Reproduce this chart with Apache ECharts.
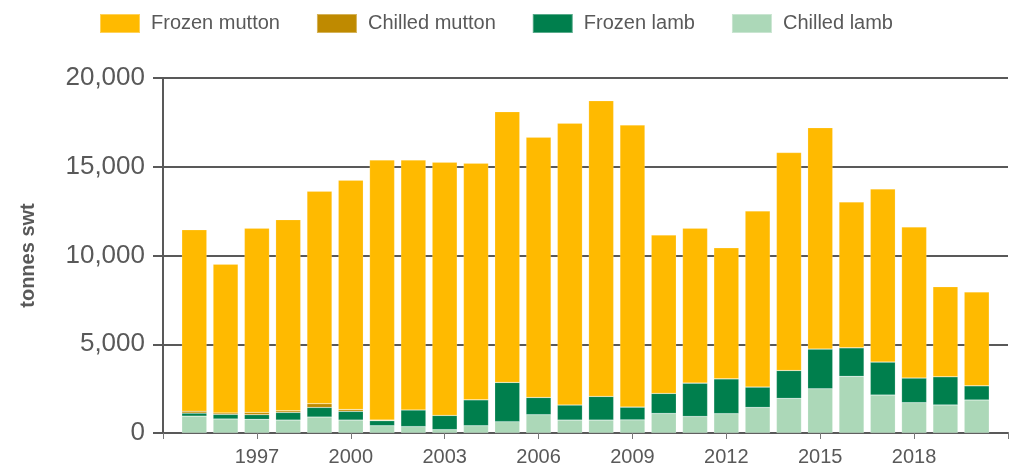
<!DOCTYPE html>
<html>
<head>
<meta charset="utf-8">
<script src="https://cdn.jsdelivr.net/npm/echarts@6/dist/echarts.min.js"></script>
<style>
  html, body { margin: 0; padding: 0; background: #fff; }
  #container { width: 1016px; height: 468px; }
</style>
</head>
<body>
<div id="container"></div>
<script>
const years = ['1995', '1996', '1997', '1998', '1999', '2000', '2001', '2002', '2003', '2004',
  '2005', '2006', '2007', '2008', '2009', '2010', '2011', '2012', '2013', '2014',
  '2015', '2016', '2017', '2018', '2019', '2020'];

// tonnes swt
const frozenMutton = [10220, 8380, 10380, 10770, 11970, 12920, 14650, 14080, 14260, 13330,
  15250, 14660, 15870, 16660, 15890, 8920, 8730, 7380, 9920, 12280,
  12470, 8220, 9750, 8510, 5070, 5290];
const chilledMutton = [110, 80, 130, 90, 210, 100, 40, 0, 0, 0,
  0, 0, 0, 0, 0, 0, 0, 0, 0, 0,
  0, 0, 0, 0, 0, 0];
const frozenLamb = [170, 260, 260, 430, 540, 490, 280, 940, 800, 1460,
  2210, 970, 850, 1330, 720, 1130, 1880, 1960, 1150, 1570,
  2240, 1610, 1860, 1390, 1590, 800];
const chilledLamb = [950, 790, 770, 730, 900, 730, 410, 360, 190, 410,
  640, 1030, 730, 730, 740, 1100, 930, 1090, 1440, 1950,
  2490, 3190, 2140, 1710, 1580, 1860];

const yTicks = [0, 5000, 10000, 15000, 20000];

// the axis runs one year past each end, ticks every third year
const axisYears = [String(+years[0] - 1)].concat(years, [String(+years[years.length - 1] + 1)]);
function pad(arr) {
  return [null].concat(arr, [null]);
}

const chart = echarts.init(document.getElementById('container'));
const grey = '#595959';
const font = 'Liberation Sans, Arial, sans-serif';

function barSeries(name, data, color) {
  return {
    name: name,
    type: 'bar',
    stack: 'total',
    barWidth: 25,
    data: pad(data),
    itemStyle: { color: color, borderColor: 'rgba(255,255,255,0.35)', borderWidth: 0.5 },
  };
}

const option = {
  animation: false,
  textStyle: { fontFamily: font },
  legend: {
    top: 8,
    left: 94,
    icon: 'rect',
    itemWidth: 40,
    itemHeight: 19,
    itemGap: 36,
    textStyle: { fontSize: 20, color: grey, fontFamily: font, padding: [0, 0, 0, 6] },
    data: ['Frozen mutton', 'Chilled mutton', 'Frozen lamb', 'Chilled lamb'],
  },
  grid: {
    left: 163,
    right: 8,
    top: 78,
    bottom: 35,
    containLabel: false,
  },
  xAxis: {
    type: 'category',
    data: axisYears,
    boundaryGap: false,
    axisLine: { lineStyle: { color: grey, width: 2 } },
    axisTick: { interval: 2, length: 6, lineStyle: { color: '#777', width: 1 } },
    axisLabel: {
      interval: 2,
      fontSize: 20,
      color: grey,
      margin: 14,
      formatter: function (v, i) {
        return (i === 0 || i === axisYears.length - 1) ? '' : v;
      },
    },
  },
  yAxis: {
    type: 'value',
    min: yTicks[0],
    max: yTicks[yTicks.length - 1],
    interval: yTicks[1] - yTicks[0],
    name: 'tonnes swt',
    nameLocation: 'middle',
    nameGap: 125,
    nameTextStyle: { fontSize: 20, fontWeight: 'bold', color: grey, fontFamily: font },
    axisLine: { show: true, lineStyle: { color: grey, width: 2 } },
    axisTick: { show: true, length: 10, lineStyle: { color: grey, width: 2 } },
    axisLabel: {
      fontSize: 26,
      color: grey,
      margin: 18,
      formatter: function (v) {
        return v.toLocaleString('en-US');
      },
    },
    splitLine: { lineStyle: { color: grey, width: 2 } },
  },
  series: [
    barSeries('Chilled lamb', chilledLamb, '#acd8b8'),
    barSeries('Frozen lamb', frozenLamb, '#007f4d'),
    barSeries('Chilled mutton', chilledMutton, '#bf8a00'),
    barSeries('Frozen mutton', frozenMutton, '#ffba00'),
  ],
};

chart.setOption(option);
</script>
</body>
</html>
